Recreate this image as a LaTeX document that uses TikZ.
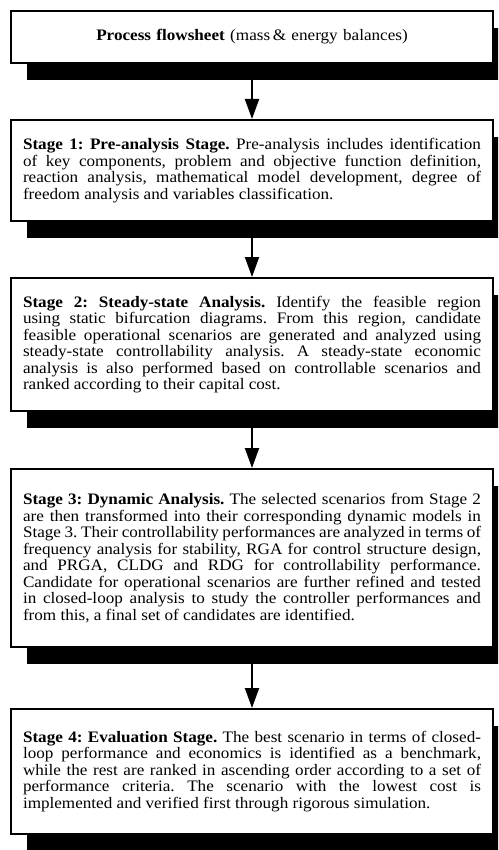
\documentclass[tikz,border=0pt]{standalone}
\usepackage{fontspec}
\setmainfont[FakeStretch=1.07]{Liberation Serif}
\usetikzlibrary{arrows.meta,shadows}
\begin{document}
\tolerance=10000
\hyphenpenalty=10000
\frenchspacing
\begin{tikzpicture}[x=1pt,y=-1pt,
  box/.style={draw=black, line width=2pt, fill=white, minimum width=482pt,
    inner xsep=12pt, inner ysep=0pt, text width=458pt, align=justify,
    font=\fontsize{16}{16.5}\selectfont,
    drop shadow={shadow xshift=16pt, shadow yshift=-17pt, fill=black, opacity=1}},
  titlebox/.style={box, align=center},
  arr/.style={line width=2pt, -{Triangle[width=14pt,length=20pt]}}]
\useasboundingbox (0,0) rectangle (498,850);
\clip (0,0) rectangle (498,850);
\node[titlebox, minimum height=52pt] (b1) at (252,37)
  {\textbf{Process flowsheet} (mass\,\& energy balances)};
\node[box, minimum height=101pt] (b2) at (252,170.5)
  {\textbf{Stage 1: Pre-analysis Stage.} Pre-analysis includes identification\linebreak
   of key components, problem and objective function definition,\linebreak
   reaction analysis, mathematical model development, degree of\linebreak
   freedom analysis and variables classification.};
\node[box, minimum height=133pt] (b3) at (252,344.5)
  {\textbf{Stage 2: Steady-state Analysis.} Identify the feasible region\linebreak
   using static bifurcation diagrams. From this region, candidate\linebreak
   feasible operational scenarios are generated and analyzed using\linebreak
   steady-state controllability analysis. A steady-state economic\linebreak
   analysis is also performed based on controllable scenarios and\linebreak
   ranked according to their capital cost.};
\node[box, minimum height=178pt] (b4) at (252,558)
  {\textbf{Stage 3: Dynamic Analysis.} The selected scenarios from Stage 2\linebreak
   are then transformed into their corresponding dynamic models in\linebreak
   Stage 3. Their controllability performances are analyzed in terms of\linebreak
   frequency analysis for stability, RGA for control structure design,\linebreak
   and PRGA, CLDG and RDG for controllability performance.\linebreak
   Candidate for operational scenarios are further refined and tested\linebreak
   in closed-loop analysis to study the controller performances and\linebreak
   from this, a final set of candidates are identified.};
\node[box, minimum height=125pt] (b5) at (252,771.5)
  {\textbf{Stage 4: Evaluation Stage.} The best scenario in terms of closed-\linebreak
   loop performance and economics is identified as a benchmark,\linebreak
   while the rest are ranked in ascending order according to a set of\linebreak
   performance criteria. The scenario with the lowest cost is\linebreak
   implemented and verified first through rigorous simulation.};
\draw[arr] (b1.south) -- (b2.north);
\draw[arr] (b2.south) -- (b3.north);
\draw[arr] (b3.south) -- (b4.north);
\draw[arr] (b4.south) -- (b5.north);
\end{tikzpicture}
\end{document}
